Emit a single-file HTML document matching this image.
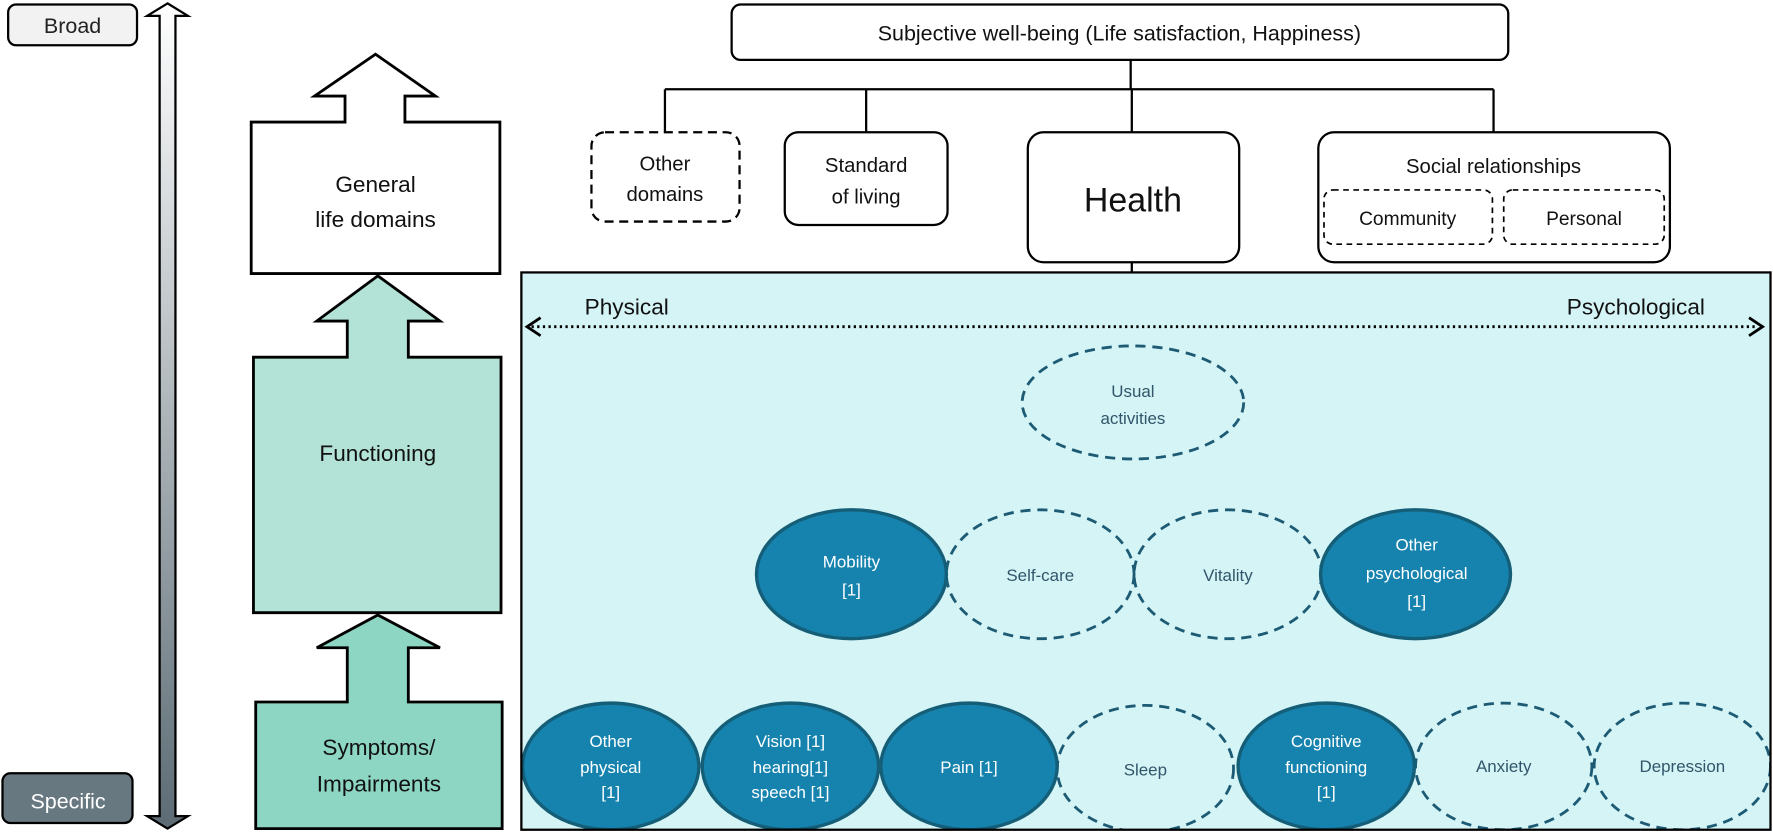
<!DOCTYPE html>
<html><head><meta charset="utf-8"><style>
html,body{margin:0;padding:0;background:#fff;}
svg{display:block;}
text{font-family:"Liberation Sans",sans-serif;}
</style></head><body>
<svg width="1773" height="832" viewBox="0 0 1568 736" xmlns="http://www.w3.org/2000/svg">
<defs>
<linearGradient id="g" x1="0" y1="0" x2="0" y2="1">
<stop offset="0" stop-color="#ffffff"/><stop offset="1" stop-color="#5c6b74"/>
</linearGradient>
<clipPath id="cp"><rect x="461" y="241" width="1105" height="493"/></clipPath>
</defs>
<!-- Broad / Specific -->
<rect x="7" y="4" width="114" height="36" rx="7" fill="#f2f2f2" stroke="#000" stroke-width="2"/>
<text x="64" y="29" font-size="19" text-anchor="middle" fill="#222">Broad</text>
<rect x="2" y="684" width="115" height="44" rx="7" fill="#687880" stroke="#000" stroke-width="2"/>
<text x="60" y="715" font-size="19" text-anchor="middle" fill="#fff">Specific</text>
<!-- vertical double arrow -->
<path d="M148,3 L166,14 L155,14 L155,722 L166,722 L148,733 L130,722 L141,722 L141,14 L130,14 Z" fill="url(#g)" stroke="#000" stroke-width="2"/>
<!-- General life domains -->
<path d="M332,48 L385,85 L358,85 L358,108 L442,108 L442,242 L222,242 L222,108 L305,108 L305,85 L278,85 Z" fill="#fff" stroke="#000" stroke-width="2.5"/>
<text x="332" y="170" font-size="20" text-anchor="middle" fill="#111">General</text>
<text x="332" y="201" font-size="20" text-anchor="middle" fill="#111">life domains</text>
<!-- Functioning -->
<path d="M334,244 L389,284 L361,284 L361,316 L443,316 L443,542 L224,542 L224,316 L307,316 L307,284 L280,284 Z" fill="#b3e3d6" stroke="#000" stroke-width="2.5"/>
<text x="334" y="408" font-size="20" text-anchor="middle" fill="#111">Functioning</text>
<!-- Symptoms -->
<path d="M334,544 L389,573 L361,573 L361,621 L444,621 L444,733 L226,733 L226,621 L307,621 L307,573 L280,573 Z" fill="#8dd6c3" stroke="#000" stroke-width="2.5"/>
<text x="335" y="668" font-size="20" text-anchor="middle" fill="#111">Symptoms/</text>
<text x="335" y="700" font-size="20" text-anchor="middle" fill="#111">Impairments</text>
<!-- connectors -->
<g stroke="#000" stroke-width="2" fill="none">
<line x1="1000" y1="53" x2="1000" y2="79"/>
<line x1="588" y1="79" x2="1321" y2="79"/>
<line x1="588" y1="79" x2="588" y2="117"/>
<line x1="766" y1="79" x2="766" y2="117"/>
<line x1="1001" y1="79" x2="1001" y2="117"/>
<line x1="1321" y1="79" x2="1321" y2="117"/>
<line x1="1001" y1="232" x2="1001" y2="241"/>
</g>
<rect x="647" y="4" width="687" height="49" rx="8" fill="#fff" stroke="#000" stroke-width="2"/>
<text x="990" y="36" font-size="19" text-anchor="middle" fill="#111">Subjective well-being (Life satisfaction, Happiness)</text>
<rect x="523" y="117" width="131" height="79" rx="12" fill="#fff" stroke="#000" stroke-width="2" stroke-dasharray="8,5"/>
<text x="588" y="151" font-size="18" text-anchor="middle" fill="#111">Other</text>
<text x="588" y="178" font-size="18" text-anchor="middle" fill="#111">domains</text>
<rect x="694" y="117" width="144" height="82" rx="12" fill="#fff" stroke="#000" stroke-width="2"/>
<text x="766" y="152" font-size="18" text-anchor="middle" fill="#111">Standard</text>
<text x="766" y="180" font-size="18" text-anchor="middle" fill="#111">of living</text>
<rect x="909" y="117" width="187" height="115" rx="14" fill="#fff" stroke="#000" stroke-width="2"/>
<text x="1002" y="187" font-size="30" text-anchor="middle" fill="#111">Health</text>
<rect x="1166" y="117" width="311" height="115" rx="14" fill="#fff" stroke="#000" stroke-width="2"/>
<text x="1321" y="153" font-size="18" text-anchor="middle" fill="#111">Social relationships</text>
<rect x="1171" y="168" width="149" height="48" rx="8" fill="#fff" stroke="#000" stroke-width="1.5" stroke-dasharray="5,4"/>
<text x="1245" y="199" font-size="17" text-anchor="middle" fill="#111">Community</text>
<rect x="1330" y="168" width="142" height="48" rx="8" fill="#fff" stroke="#000" stroke-width="1.5" stroke-dasharray="5,4"/>
<text x="1401" y="199" font-size="17" text-anchor="middle" fill="#111">Personal</text>
<!-- cyan panel -->
<rect x="461" y="241" width="1105" height="493" fill="#d5f4f6"/>
<text x="517" y="278" font-size="20" fill="#111">Physical</text>
<text x="1508" y="278" font-size="20" text-anchor="end" fill="#111">Psychological</text>
<line x1="470" y1="289" x2="1555" y2="289" stroke="#000" stroke-width="2.5" stroke-dasharray="2,3"/>
<path d="M478,281 L466,289 L478,297" fill="none" stroke="#000" stroke-width="2.5"/>
<path d="M1547,281 L1559,289 L1547,297" fill="none" stroke="#000" stroke-width="2.5"/>
<g stroke="#1d5b75" stroke-width="2.5" clip-path="url(#cp)">
<ellipse cx="1002" cy="356" rx="98" ry="50" fill="none" stroke-dasharray="9,6"/>
<ellipse cx="920" cy="508" rx="83" ry="57" fill="none" stroke-dasharray="9,6"/>
<ellipse cx="1086" cy="508" rx="83" ry="57" fill="none" stroke-dasharray="9,6"/>
<ellipse cx="753" cy="508" rx="84" ry="57" fill="#1683ae" stroke="#155e78" stroke-width="3"/>
<ellipse cx="1252" cy="508" rx="84" ry="57" fill="#1683ae" stroke="#155e78" stroke-width="3"/>
<ellipse cx="1013" cy="680" rx="78" ry="56" fill="none" stroke-dasharray="9,6"/>
<ellipse cx="1330" cy="678" rx="78" ry="56" fill="none" stroke-dasharray="9,6"/>
<ellipse cx="1488" cy="678" rx="78" ry="56" fill="none" stroke-dasharray="9,6"/>
<ellipse cx="540" cy="678" rx="78" ry="56" fill="#1683ae" stroke="#155e78" stroke-width="3"/>
<ellipse cx="699" cy="678" rx="78" ry="56" fill="#1683ae" stroke="#155e78" stroke-width="3"/>
<ellipse cx="857" cy="678" rx="78" ry="56" fill="#1683ae" stroke="#155e78" stroke-width="3"/>
<ellipse cx="1173" cy="678" rx="78" ry="56" fill="#1683ae" stroke="#155e78" stroke-width="3"/>
</g>
<rect x="461" y="241" width="1105" height="493" fill="none" stroke="#000" stroke-width="2"/>
<g font-size="15" text-anchor="middle" fill="#31566a">
<text x="1002" y="351">Usual</text><text x="1002" y="375">activities</text>
<text x="920" y="514">Self-care</text>
<text x="1086" y="514">Vitality</text>
<text x="1013" y="686">Sleep</text>
<text x="1330" y="683">Anxiety</text>
<text x="1488" y="683">Depression</text>
</g>
<g font-size="15" text-anchor="middle" fill="#fff">
<text x="753" y="502">Mobility</text><text x="753" y="527">[1]</text>
<text x="1253" y="487">Other</text><text x="1253" y="512">psychological</text><text x="1253" y="537">[1]</text>
<text x="540" y="661">Other</text><text x="540" y="684">physical</text><text x="540" y="706">[1]</text>
<text x="699" y="661">Vision [1]</text><text x="699" y="684">hearing[1]</text><text x="699" y="706">speech [1]</text>
<text x="857" y="684">Pain [1]</text>
<text x="1173" y="661">Cognitive</text><text x="1173" y="684">functioning</text><text x="1173" y="706">[1]</text>
</g>
</svg>
</body></html>
